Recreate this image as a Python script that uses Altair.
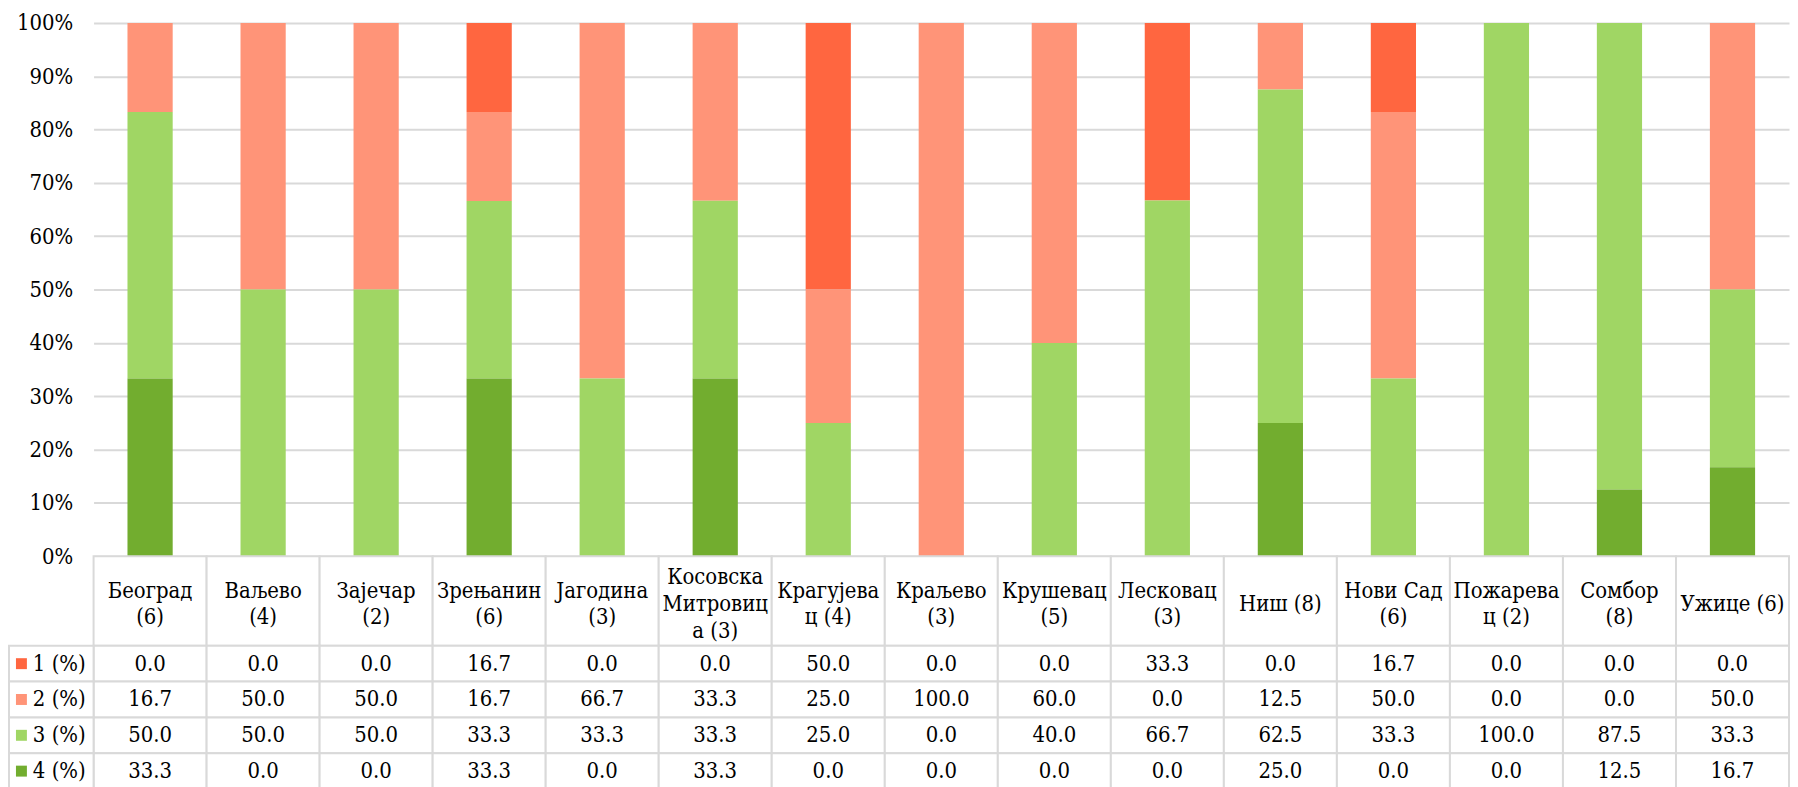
import altair as alt
import pandas as pd

cities = ["Београд (6)", "Ваљево (4)", "Зајечар (2)", "Зрењанин (6)", "Јагодина (3)",
          "Косовска Митровица (3)", "Крагујевац (4)", "Краљево (3)", "Крушевац (5)",
          "Лесковац (3)", "Ниш (8)", "Нови Сад (6)", "Пожаревац (2)", "Сомбор (8)", "Ужице (6)"]
header_labels = ["Београд\n(6)", "Ваљево\n(4)", "Зајечар\n(2)", "Зрењанин\n(6)", "Јагодина\n(3)",
                 "Косовска\nМитровиц\nа (3)", "Крагујева\nц (4)", "Краљево\n(3)", "Крушевац\n(5)",
                 "Лесковац\n(3)", "Ниш (8)", "Нови Сад\n(6)", "Пожарева\nц (2)", "Сомбор\n(8)", "Ужице (6)"]
series = ["1 (%)", "2 (%)", "3 (%)", "4 (%)"]
colors = ["#FF6640", "#FF9478", "#A0D664", "#72AD2F"]

s1 = [0.0, 0.0, 0.0, 16.7, 0.0, 0.0, 50.0, 0.0, 0.0, 33.3, 0.0, 16.7, 0.0, 0.0, 0.0]
s2 = [16.7, 50.0, 50.0, 16.7, 66.7, 33.3, 25.0, 100.0, 60.0, 0.0, 12.5, 50.0, 0.0, 0.0, 50.0]
s3 = [50.0, 50.0, 50.0, 33.3, 33.3, 33.3, 25.0, 0.0, 40.0, 66.7, 62.5, 33.3, 100.0, 87.5, 33.3]
s4 = [33.3, 0.0, 0.0, 33.3, 0.0, 33.3, 0.0, 0.0, 0.0, 0.0, 25.0, 0.0, 0.0, 12.5, 16.7]

rows = []
for si, (name, vals) in enumerate(zip(series, [s1, s2, s3, s4])):
    for c, v in zip(cities, vals):
        rows.append({"city": c, "series": name, "value": v, "rank": 3 - si})
df = pd.DataFrame(rows)
hdr = pd.DataFrame({"city": cities, "label": header_labels,
                    "nlines": [len(l.split("\n")) for l in header_labels]})
leg = pd.DataFrame({"series": series})

FONT = "DejaVu Serif Condensed"
FS = 22
LH = 27
GRID = "#D9D9D9"
W = 1704
HDR_H = 90
HDR_MID = 48

color_scale = alt.Scale(domain=series, range=colors)

bars = alt.Chart(df).mark_bar().encode(
    x=alt.X("city:N", sort=cities, axis=None,
            scale=alt.Scale(paddingInner=0.6, paddingOuter=0.3)),
    y=alt.Y("value:Q", stack="normalize", scale=alt.Scale(domain=[0, 1], nice=False),
            axis=alt.Axis(format=".0%", values=[i / 10 for i in range(11)], title=None,
                          grid=True, gridColor=GRID, gridWidth=2, domain=False, ticks=False,
                          tickSize=0, labelPadding=21, labelFont=FONT, labelFontSize=FS,
                          labelColor="black")),
    color=alt.Color("series:N", scale=color_scale, legend=None),
    order=alt.Order("rank:Q"),
).properties(width=W, height=536)

xband = alt.Scale(type="band", paddingInner=0, paddingOuter=0)

hdr_base = alt.Chart(hdr).encode(x=alt.X("city:N", sort=cities, axis=None, scale=xband))
hdr_cells = hdr_base.mark_rect(fill="white", stroke=GRID, strokeWidth=2).encode(
    y=alt.value(0), y2=alt.value(HDR_H))
hdr_layers = [hdr_cells]
for n in (1, 2, 3):
    hdr_layers.append(
        hdr_base.transform_filter(alt.datum.nlines == n)
        .mark_text(font=FONT, fontSize=FS, lineBreak="\n", lineHeight=LH,
                   baseline="middle", color="black")
        .encode(y=alt.value(HDR_MID - (n - 1) * LH / 2), text="label:N")
    )
header = alt.layer(*hdr_layers).properties(width=W, height=HDR_H)

yband = alt.Scale(type="band", paddingInner=0, paddingOuter=0, domain=series)
tb = alt.Chart(df).encode(
    x=alt.X("city:N", sort=cities, axis=None, scale=xband),
    y=alt.Y("series:N", axis=None, scale=yband),
)
cells = tb.mark_rect(fill="white", stroke=GRID, strokeWidth=2)
vals = tb.mark_text(font=FONT, fontSize=FS, color="black", baseline="middle").encode(
    text=alt.Text("value:Q", format=".1f"))
lb = alt.Chart(leg).encode(y=alt.Y("series:N", axis=None, scale=yband))
leg_cells = lb.mark_rect(fill="white", stroke=GRID, strokeWidth=2).encode(
    x=alt.value(-85), x2=alt.value(0))
leg_sq = lb.mark_square(size=121, opacity=1).encode(
    x=alt.value(-72.5), color=alt.Color("series:N", scale=color_scale, legend=None))
leg_txt = lb.mark_text(font=FONT, fontSize=FS, color="black", align="left",
                       baseline="middle").encode(x=alt.value(-61), text="series:N")
table = alt.layer(cells, vals, leg_cells, leg_sq, leg_txt).properties(width=W, height=144)

chart = alt.vconcat(bars, header, table, spacing=0, bounds="flush").properties(
    padding={"left": 0, "top": 2, "right": 0, "bottom": 0}
).configure_view(stroke=None).resolve_scale(color="shared")

chart.save("out.html", embed_options={"renderer": "svg", "actions": False})
